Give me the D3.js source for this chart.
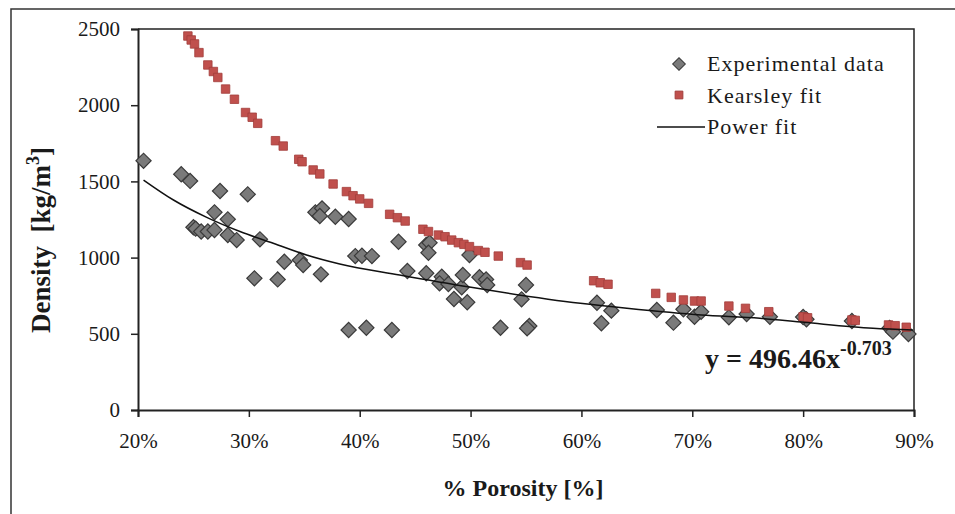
<!DOCTYPE html>
<html>
<head>
<meta charset="utf-8">
<script src="https://cdn.jsdelivr.net/npm/d3@7/dist/d3.min.js"></script>
<style>
    body { margin: 0; background: #fff; }
    svg text { font-family: "Liberation Serif", "Times New Roman", serif; fill: #1a1a1a; }
</style>
</head>
<body>
<svg id="chart" width="955" height="514"></svg>
<script>
// experimental data: porosity (fraction) and density (kg/m3)
var expPorosity = [0.205, 0.239, 0.247, 0.274, 0.299, 0.269, 0.281, 0.250, 0.252, 0.257, 0.263, 0.269,
        0.281, 0.289, 0.310, 0.332, 0.346, 0.349, 0.360, 0.366, 0.364, 0.378, 0.390, 0.396, 0.402, 0.411,
        0.305, 0.326, 0.365, 0.390, 0.406, 0.429, 0.435, 0.460, 0.463, 0.462, 0.499, 0.443, 0.460, 0.474,
        0.472, 0.480, 0.492, 0.493, 0.508, 0.514, 0.515, 0.485, 0.497, 0.550, 0.546, 0.527, 0.553, 0.551,
        0.614, 0.627, 0.618, 0.668, 0.683, 0.692, 0.702, 0.708, 0.733, 0.749, 0.770, 0.803, 0.800, 0.844,
        0.878, 0.881, 0.895],
    expDensity = [1635, 1547, 1503, 1437, 1415, 1297, 1251, 1199, 1190, 1171, 1171, 1181,
        1148, 1115, 1120, 973, 984, 951, 1297, 1323, 1273, 1268, 1253, 1010, 1012, 1010,
        864, 857, 890, 525, 540, 525, 1104, 1083, 1098, 1032, 1017, 912, 897, 875,
        831, 827, 805, 886, 871, 857, 820, 728, 707, 820, 726, 540, 551, 536,
        704, 652, 569, 656, 573, 661, 612, 645, 608, 630, 612, 595, 610, 584,
        538, 514, 499];

// Kearsley fit points
var kearPorosity = [0.245, 0.248, 0.251, 0.255, 0.263, 0.268, 0.272, 0.279, 0.287, 0.297, 0.303, 0.308,
        0.324, 0.331, 0.345, 0.348, 0.358, 0.364, 0.376, 0.388, 0.394, 0.400, 0.408, 0.427, 0.434, 0.441,
        0.457, 0.462, 0.471, 0.477, 0.483, 0.489, 0.494, 0.499, 0.507, 0.513, 0.525, 0.545, 0.551,
        0.611, 0.617, 0.624, 0.667, 0.681, 0.692, 0.702, 0.708, 0.733, 0.748, 0.769, 0.800, 0.804,
        0.844, 0.847, 0.877, 0.883, 0.893],
    kearDensity = [2454, 2428, 2402, 2345, 2264, 2221, 2182, 2106, 2039, 1952, 1921, 1881,
        1767, 1732, 1645, 1629, 1575, 1549, 1483, 1433, 1406, 1385, 1356, 1284, 1262, 1240,
        1186, 1171, 1148, 1137, 1115, 1098, 1087, 1072, 1046, 1035, 1010, 967, 951,
        848, 835, 825, 765, 739, 722, 715, 715, 682, 667, 645, 612, 605,
        591, 588, 558, 553, 543];

// power fit curve
var fitPorosity = [0.205, 0.232, 0.262, 0.292, 0.322, 0.352, 0.382, 0.436, 0.499, 0.599, 0.641, 0.708, 0.761, 0.801, 0.863, 0.899],
    fitDensity = [1509, 1378, 1264, 1171, 1094, 1017, 958, 886, 807, 700, 667, 623, 602, 575, 536, 525];

var xTicks = [0.2, 0.3, 0.4, 0.5, 0.6, 0.7, 0.8, 0.9],
    yTicks = [0, 500, 1000, 1500, 2000, 2500];

var legendLabels = ['Experimental data', 'Kearsley fit', 'Power fit'];

var svg = d3.select('#chart'),
    plotLeft = 138, plotRight = 914, plotTop = 29, plotBottom = 410;

var x = d3.scaleLinear().domain([0.2, 0.9]).range([plotLeft, plotRight]),
    y = d3.scaleLinear().domain([0, 2500]).range([plotBottom, plotTop]);

var zip = function zip(a, b) {
    return a.map(function (v, i) { return [v, b[i]]; });
};

// outer frame
svg.append('rect')
    .attr('x', 11).attr('y', 9)
    .attr('width', 960).attr('height', 520)
    .attr('fill', 'none')
    .attr('stroke', '#333')
    .attr('stroke-width', 1.5);

// plot box (top/right edges)
svg.append('path')
    .attr('d', 'M' + plotLeft + ',' + plotTop + 'H' + plotRight + 'V' + plotBottom)
    .attr('fill', 'none')
    .attr('stroke', '#222')
    .attr('stroke-width', 1.5);

var xAxis = svg.append('g')
    .attr('transform', 'translate(0,' + plotBottom + ')')
    .call(d3.axisBottom(x).tickValues(xTicks).tickFormat(d3.format('.0%')).tickSize(7).tickPadding(16));

var yAxis = svg.append('g')
    .attr('transform', 'translate(' + plotLeft + ',0)')
    .call(d3.axisLeft(y).tickValues(yTicks).tickFormat(d3.format('d')).tickSize(7).tickPadding(11));

[xAxis, yAxis].forEach(function (g) {
    g.attr('font-size', null).attr('font-family', null);
    g.select('.domain').attr('stroke', '#222').attr('stroke-width', 2);
    g.selectAll('.tick line').attr('stroke', '#222').attr('stroke-width', 1.5);
    g.selectAll('.tick text')
        .attr('fill', '#2a2a2a')
        .style('font-size', '21px');
});

var diamond = d3.symbol().type(d3.symbolSquare).size(115),
    square = d3.symbol().type(d3.symbolSquare).size(72);

svg.append('g').selectAll('path')
    .data(zip(expPorosity, expDensity))
    .enter().append('path')
    .attr('d', diamond)
    .attr('transform', function (d) { return 'translate(' + x(d[0]) + ',' + y(d[1]) + ') rotate(45)'; })
    .attr('fill', '#7a7a7a')
    .attr('stroke', '#3a3a3a')
    .attr('stroke-width', 1.2);

svg.append('g').selectAll('path')
    .data(zip(kearPorosity, kearDensity))
    .enter().append('path')
    .attr('d', square)
    .attr('transform', function (d) { return 'translate(' + x(d[0]) + ',' + y(d[1]) + ')'; })
    .attr('fill', '#c0504d')
    .attr('stroke', '#a23e3b')
    .attr('stroke-width', 0.8);

svg.append('path')
    .datum(zip(fitPorosity, fitDensity))
    .attr('d', d3.line()
        .x(function (d) { return x(d[0]); })
        .y(function (d) { return y(d[1]); })
        .curve(d3.curveMonotoneX))
    .attr('fill', 'none')
    .attr('stroke', '#111')
    .attr('stroke-width', 1.5);

// legend
var legend = svg.append('g');

legend.append('path')
    .attr('d', d3.symbol().type(d3.symbolSquare).size(80))
    .attr('transform', 'translate(679,64) rotate(45)')
    .attr('fill', '#7a7a7a')
    .attr('stroke', '#3a3a3a');

legend.append('path')
    .attr('d', d3.symbol().type(d3.symbolSquare).size(60))
    .attr('transform', 'translate(679,95)')
    .attr('fill', '#c0504d')
    .attr('stroke', '#a23e3b');

legend.append('line')
    .attr('x1', 657).attr('x2', 705)
    .attr('y1', 127).attr('y2', 127)
    .attr('stroke', '#111')
    .attr('stroke-width', 1.5);

legend.selectAll('text')
    .data(legendLabels)
    .enter().append('text')
    .attr('x', 707)
    .attr('y', function (d, i) { return 71 + i * 31.5; })
    .style('font-size', '22px')
    .style('letter-spacing', '1px')
    .text(function (d) { return d; });

// equation
var eq = svg.append('text')
    .attr('x', 705).attr('y', 368)
    .style('font-size', '28px')
    .style('font-weight', 'bold');
eq.append('tspan').text('y = 496.46x');
eq.append('tspan')
    .attr('dy', -13)
    .style('font-size', '20px')
    .text('-0.703');

// axis titles
svg.append('text')
    .attr('x', 523).attr('y', 496)
    .attr('text-anchor', 'middle')
    .style('font-size', '24px')
    .style('font-weight', 'bold')
    .text('% Porosity [%]');

var yTitle = svg.append('text')
    .attr('transform', 'translate(50,240) rotate(-90)')
    .attr('text-anchor', 'middle')
    .style('font-size', '27px')
    .style('font-weight', 'bold')
    .style('white-space', 'pre');
yTitle.append('tspan').text('Density  [kg/m');
yTitle.append('tspan').attr('dy', -11).style('font-size', '18px').text('3');
yTitle.append('tspan').attr('dy', 11).text(']');
</script>
</body>
</html>
